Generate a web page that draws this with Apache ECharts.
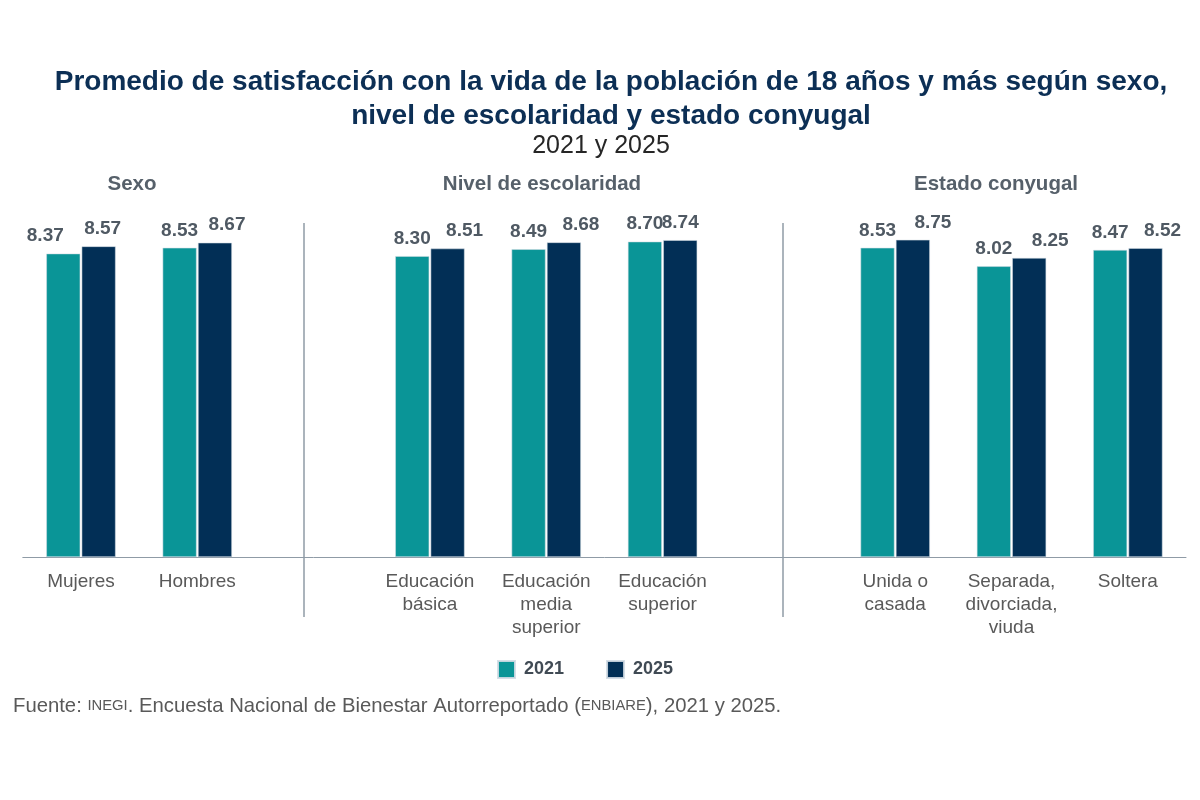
<!DOCTYPE html>
<html>
<head>
<meta charset="utf-8">
<script src="https://cdn.jsdelivr.net/npm/echarts@6/dist/echarts.min.js"></script>
<style>
  html, body { margin: 0; padding: 0; background: #fff; }
  #chart { width: 1200px; height: 800px; }
</style>
</head>
<body>
<div id="chart"></div>
<script>
  // grupos y categorías
  var groups = ['Sexo', 'Nivel de escolaridad', 'Estado conyugal'];
  var catSexo = ['Mujeres', 'Hombres'];
  var catEscolaridad = ['Educación\nbásica', 'Educación\nmedia\nsuperior', 'Educación\nsuperior'];
  var catConyugal = ['Unida o\ncasada', 'Separada,\ndivorciada,\nviuda', 'Soltera'];

  // valores por año (mismo orden que las categorías)
  var years = ['2021', '2025'];
  var values2021 = [8.37, 8.53, 8.30, 8.49, 8.70, 8.53, 8.02, 8.47];
  var values2025 = [8.57, 8.67, 8.51, 8.68, 8.74, 8.75, 8.25, 8.52];

  // pequeños desplazamientos de etiqueta para que no se encimen
  var nudge2021 = [-18, 0, 0, 0, 0, 0, 0, 0];
  var nudge2025 = [4, 12, 17, 17, 0, 20, 21, 17];

  var colors = ['#0a9597', '#022f56'];

  // se arma el eje con un hueco entre grupos
  var slots = [].concat(catSexo, [''], catEscolaridad, [''], catConyugal);

  function toSlots(vals, nudge) {
    var out = [], k = 0;
    slots.forEach(function (c) {
      if (c === '') { out.push('-'); return; }
      out.push({ value: vals[k], label: { offset: [nudge[k], 0] } });
      k++;
    });
    return out;
  }

  function header(text, x) {
    return {
      text: text, left: x, top: 174, textAlign: 'center', padding: 0,
      textStyle: { fontSize: 20.5, fontWeight: 'bold', color: '#56606a' }
    };
  }

  var chart = echarts.init(document.getElementById('chart'));

  var option = {
    animation: false,
    textStyle: { fontFamily: 'Liberation Sans, Arial, sans-serif' },
    title: [
      {
        text: 'Promedio de satisfacción con la vida de la población de 18 años y más según sexo,\nnivel de escolaridad y estado conyugal',
        left: 611, top: 65, textAlign: 'center', padding: 0,
        textStyle: { fontSize: 28, fontWeight: 'bold', color: '#0c2f55', lineHeight: 34 }
      },
      {
        text: '2021 y 2025',
        left: 601, top: 134, textAlign: 'center', padding: 0,
        textStyle: { fontSize: 25, fontWeight: 'normal', color: '#262626' }
      },
      header(groups[0], 132),
      header(groups[1], 542),
      header(groups[2], 996),
      {
        text: '{a|Fuente: }{s|INEGI}{a|. Encuesta Nacional de Bienestar Autorreportado (}{s|ENBIARE}{a|), 2021 y 2025.}',
        left: 13, top: 696, padding: 0,
        textStyle: {
          fontWeight: 'normal',
          rich: {
            a: { fontSize: 20.3, fontWeight: 'normal', color: '#595959' },
            s: { fontSize: 14.8, fontWeight: 'normal', color: '#595959' }
          }
        }
      }
    ],
    legend: {
      data: years,
      left: 497, top: 660, padding: 0,
      itemWidth: 17, itemHeight: 17, itemGap: 42,
      icon: 'rect',
      textStyle: { fontSize: 18, fontWeight: 'bold', color: '#404a54', padding: [0, 0, 0, 4] }
    },
    grid: { left: 22.8, right: 14, top: 194.5, height: 362.5, containLabel: false },
    xAxis: {
      type: 'category',
      data: slots,
      axisLine: { lineStyle: { color: '#8f9ba6', width: 1 } },
      axisTick: { show: false },
      axisLabel: { color: '#595959', fontSize: 19, lineHeight: 23, margin: 13, interval: 0 }
    },
    yAxis: {
      type: 'value', min: 0, max: 10,
      show: false, splitLine: { show: false }
    },
    series: [
      {
        name: years[0], type: 'bar', barWidth: 34, barGap: '4%',
        data: toSlots(values2021, nudge2021),
        itemStyle: { color: colors[0], borderColor: 'rgba(210,220,228,0.9)', borderWidth: 0.6 },
        label: {
          show: true, position: 'top', distance: 8,
          fontSize: 19, fontWeight: 'bold', color: '#4f5963',
          formatter: function (p) { return p.value.toFixed(2); }
        }
      },
      {
        name: years[1], type: 'bar', barWidth: 34,
        data: toSlots(values2025, nudge2025),
        itemStyle: { color: colors[1], borderColor: 'rgba(210,220,228,0.9)', borderWidth: 0.6 },
        label: {
          show: true, position: 'top', distance: 8,
          fontSize: 19, fontWeight: 'bold', color: '#4f5963',
          formatter: function (p) { return p.value.toFixed(2); }
        }
      }
    ],
    // líneas divisorias entre grupos
    graphic: [
      { type: 'line', shape: { x1: 304, y1: 223, x2: 304, y2: 617 }, style: { stroke: '#8f9ba6', lineWidth: 1.5 } },
      { type: 'line', shape: { x1: 783, y1: 223, x2: 783, y2: 617 }, style: { stroke: '#8f9ba6', lineWidth: 1.5 } }
    ]
  };

  chart.setOption(option);
</script>
</body>
</html>
